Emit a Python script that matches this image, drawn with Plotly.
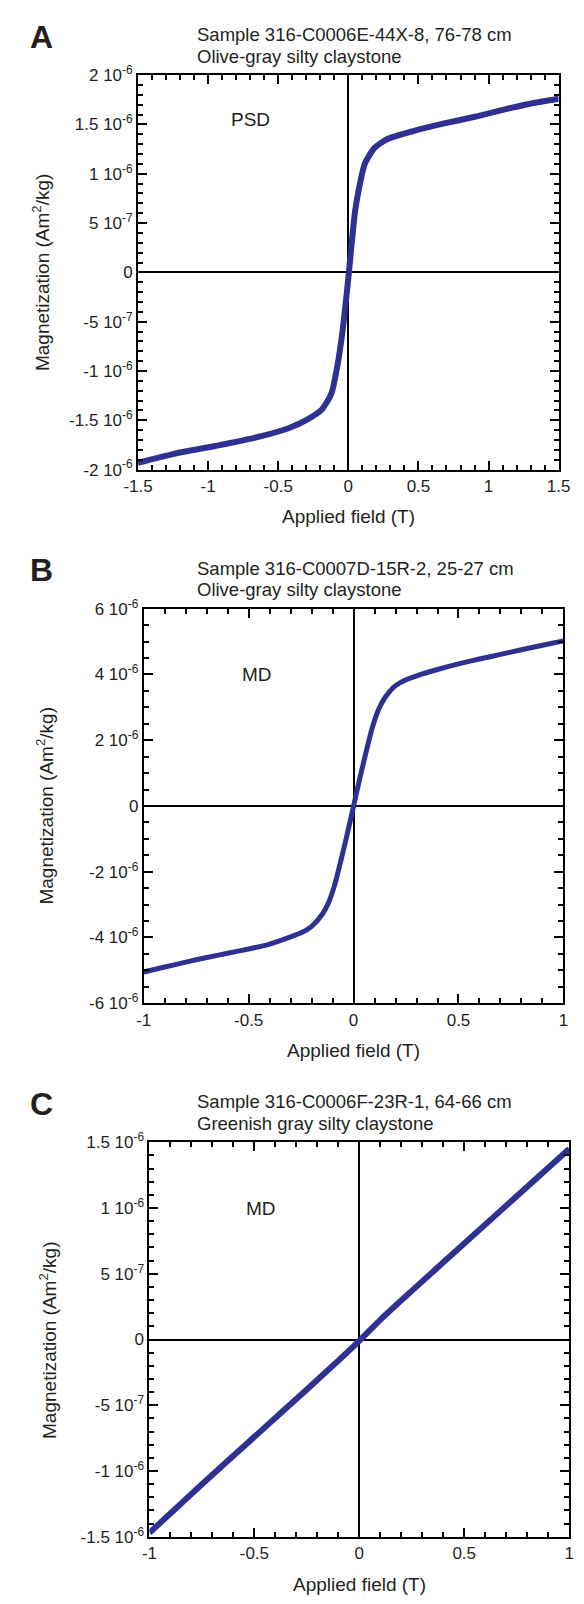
import plotly.graph_objects as go

W, H = 584, 1604
FONT = "Liberation Sans, Arial, Helvetica, sans-serif"
INK = "#231f20"
BLUE = "rgb(46,49,146)"

# ---------------- data (magnetization in 1e-6 Am2/kg) ----------------
a_field = [-1.5, -1.244, -0.949, -0.677, -0.427, -0.291, -0.189, -0.121, -0.076, -0.042,
           -0.015, 0.003, 0.022, 0.049, 0.083, 0.117, 0.185, 0.276, 0.457, 0.684,
           0.910, 1.138, 1.296, 1.5]
a_mag = [-1.93, -1.84, -1.76, -1.68, -1.58, -1.49, -1.39, -1.23, -0.93, -0.60,
         -0.26, -0.015, 0.27, 0.63, 0.90, 1.10, 1.26, 1.35, 1.43, 1.51,
         1.58, 1.66, 1.71, 1.76]

b_field = [-1.0, -0.9, -0.8, -0.7, -0.6, -0.5, -0.4, -0.3, -0.25, -0.2, -0.15, -0.12, -0.09,
           -0.06, -0.03, 0.0, 0.03, 0.06, 0.09, 0.12, 0.15, 0.2, 0.25, 0.3, 0.4, 0.5,
           0.6, 0.7, 0.8, 0.9, 1.0]
b_mag = [-5.05, -4.90, -4.75, -4.61, -4.48, -4.35, -4.20, -3.98, -3.86, -3.66, -3.30, -2.95, -2.40,
         -1.65, -0.85, 0.0, 0.85, 1.65, 2.40, 2.95, 3.30, 3.66, 3.84, 3.96, 4.15, 4.32,
         4.47, 4.61, 4.75, 4.89, 5.02]

c_field = [-1.0, -0.75, -0.5, -0.25, -0.1, 0.0, 0.1, 0.25, 0.5, 0.75, 1.0]
c_mag = [-1.47, -1.10, -0.74, -0.38, -0.16, -0.01, 0.15, 0.37, 0.73, 1.09, 1.45]

# tick label texts (value shown by plotly -> printed label)
a_ylabels = {"2": "2 10<sup>-6</sup>", "1.5": "1.5 10<sup>-6</sup>", "1": "1 10<sup>-6</sup>",
             "0.5": "5 10<sup>-7</sup>", "0": "0", "-0.5": "-5 10<sup>-7</sup>",
             "-1": "-1 10<sup>-6</sup>", "-1.5": "-1.5 10<sup>-6</sup>", "-2": "-2 10<sup>-6</sup>"}
b_ylabels = {"6": "6 10<sup>-6</sup>", "4": "4 10<sup>-6</sup>", "2": "2 10<sup>-6</sup>", "0": "0",
             "-2": "-2 10<sup>-6</sup>", "-4": "-4 10<sup>-6</sup>", "-6": "-6 10<sup>-6</sup>"}
c_ylabels = {"1.5": "1.5 10<sup>-6</sup>", "1": "1 10<sup>-6</sup>", "0.5": "5 10<sup>-7</sup>",
             "0": "0", "-0.5": "-5 10<sup>-7</sup>", "-1": "-1 10<sup>-6</sup>",
             "-1.5": "-1.5 10<sup>-6</sup>"}
x_labels = {"-1.5": "-1.5", "-1": "-1", "-0.5": "-0.5"}


def alias(d):
    out = {}
    for k, v in d.items():
        out[k] = v
        if k.startswith("-"):
            out["\u2212" + k[1:]] = v
    return out


panels = [
    dict(letter="A", t1="Sample 316-C0006E-44X-8, 76-78 cm", t2="Olive-gray silty claystone",
         x=a_field, y=a_mag, xr=[-1.5, 1.5], yr=[-2, 2], xd=0.5, xm=0.1,
         yd=0.5, ym=0.1, ylab=a_ylabels, box=(129, 570, 64, 464),
         tag="PSD", tagxy=(-0.70, 1.55), ytx=28, lw=6),
    dict(letter="B", t1="Sample 316-C0007D-15R-2, 25-27 cm", t2="Olive-gray silty claystone",
         x=b_field, y=b_mag, xr=[-1, 1], yr=[-6, 6], xd=0.5, xm=0.1,
         yd=2, ym=0.5, ylab=b_ylabels, box=(135, 575, 605, 1005),
         tag="MD", tagxy=(-0.46, 4.0), ytx=31, lw=5),
    dict(letter="C", t1="Sample 316-C0006F-23R-1, 64-66 cm", t2="Greenish gray silty claystone",
         x=c_field, y=c_mag, xr=[-1, 1], yr=[-1.5, 1.5], xd=0.5, xm=0.1,
         yd=0.5, ym=0.1, ylab=c_ylabels, box=(141, 581, 1146, 1546),
         tag="MD", tagxy=(-0.47, 1.0), ytx=34, lw=6),
]

fig = go.Figure()
annotations = []
layout = {}


def ann(text, x, y, size, xanchor="center", angle=0, bold=False, xref="paper", yref="paper"):
    return dict(text=("<b>%s</b>" % text) if bold else text, x=x, y=y, xref=xref, yref=yref,
                xanchor=xanchor, yanchor="middle", showarrow=False, textangle=angle,
                font=dict(family=FONT, size=size, color=INK))


for i, p in enumerate(panels):
    n = "" if i == 0 else str(i + 1)
    xa, ya = "x" + n, "y" + n
    l, r, t, b = p["box"]
    fig.add_trace(go.Scatter(x=p["x"], y=p["y"], mode="lines",
                             line=dict(color=BLUE, width=p["lw"], shape="spline", smoothing=0.6),
                             xaxis=xa, yaxis=ya, showlegend=False, hoverinfo="skip"))
    common = dict(showline=True, linecolor="black", linewidth=2, mirror="allticks",
                  ticks="inside", ticklen=9, tickwidth=1.6, tickcolor="black",
                  showgrid=False, zeroline=True, zerolinecolor="black", zerolinewidth=1.6,
                  tickfont=dict(family=FONT, size=17, color=INK), tickmode="linear", tick0=0)
    layout["xaxis" + n] = dict(common, domain=[l / W, r / W], range=p["xr"], dtick=p["xd"],
                                labelalias=alias(x_labels), anchor=ya,
                                minor=dict(dtick=p["xm"], tick0=0, ticks="inside", ticklen=5,
                                           tickwidth=1.6, tickcolor="black", showgrid=False))
    layout["yaxis" + n] = dict(common, domain=[1 - b / H, 1 - t / H], range=p["yr"], dtick=p["yd"],
                                labelalias=alias(p["ylab"]), anchor=xa,
                                minor=dict(dtick=p["ym"], tick0=0, ticks="inside", ticklen=5,
                                           tickwidth=1.6, tickcolor="black", showgrid=False))
    annotations.append(ann(p["letter"], 28 / W, 1 - (t - 39) / H, 32, bold=True))
    annotations.append(ann(p["t1"], 189 / W, 1 - (t - 41) / H, 18.5, xanchor="left"))
    annotations.append(ann(p["t2"], 189 / W, 1 - (t - 19) / H, 18.5, xanchor="left"))
    annotations.append(ann("Applied field (T)", (l + r) / 2 / W, 1 - (b + 48) / H, 19))
    annotations.append(ann("Magnetization (Am<sup>2</sup>/kg)", p["ytx"] / W,
                           1 - (t + b) / 2 / H, 19, angle=-90))
    annotations.append(ann(p["tag"], p["tagxy"][0], p["tagxy"][1], 19, xref=xa, yref=ya))

fig.update_layout(width=W, height=H, margin=dict(l=0, r=0, t=0, b=0),
                  paper_bgcolor="white", plot_bgcolor="white", hovermode=False,
                  annotations=annotations, **layout)
fig.write_html("out.html", config={"displayModeBar": False},
               post_script="document.body.style.margin='0';document.body.style.overflow='hidden';")
